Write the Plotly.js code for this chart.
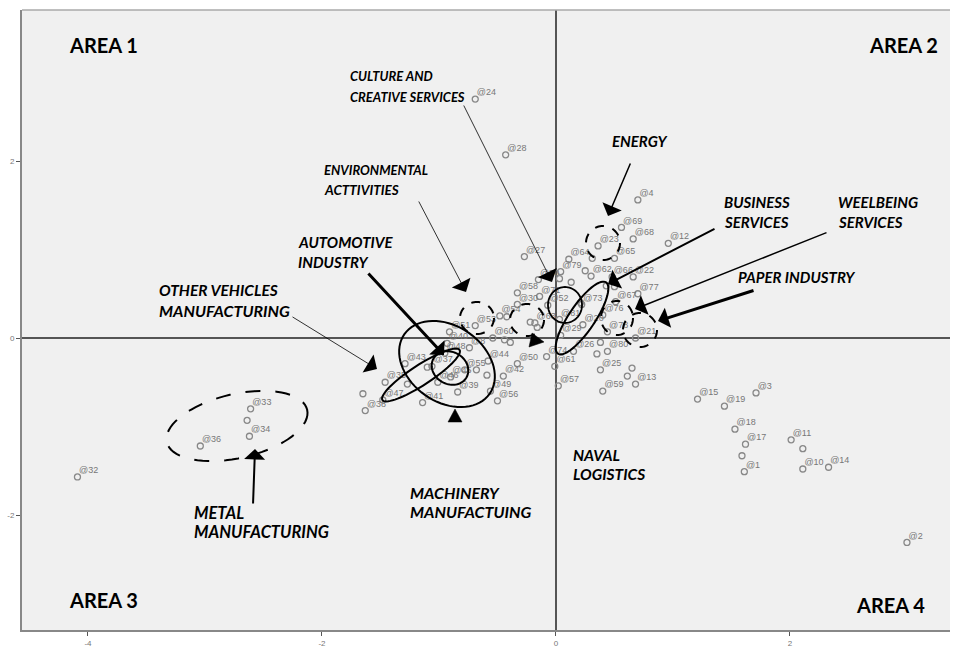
<!DOCTYPE html>
<html><head><meta charset="utf-8">
<script src="https://cdn.plot.ly/plotly-3.0.1.min.js"></script>
<style>html,body{margin:0;padding:0;background:#fff}</style>
</head><body><div id="chart" style="width:971px;height:655px"></div>
<script>
// ---- data (object scores) ----
const pointLabels = ['@24','@28','@4','@69','@68','@12','@23','@65','@64','@27','@79','@62','@66','@22','@58','@77','@70','@71','@30','@73','@67','@54','@76','@81','@63','@52','@53','@20','@51','@29','@78','@21','@60','@40','@48','@8','@26','@80','@74','@44','@43','@50','@37','@61','@55','@25','@45','@42','@35','@46','@13','@57','@59','@39','@49','@47','@56','@41','@38','@33','@34','@36','@32','@15','@3','@19','@18','@17','@1','@11','@10','@14','@2',
  '','','','','','','','','','','','','','','','','','','','','','','',''];
const pointX = [-0.69,-0.43,0.70,0.56,0.66,0.96,0.36,0.50,0.11,-0.27,0.04,0.30,0.48,0.66,-0.33,0.70,-0.15,-0.14,-0.33,0.22,0.51,-0.48,0.40,0.03,-0.18,-0.07,-0.69,0.23,-0.91,0.04,0.44,0.68,-0.54,-0.93,-0.95,-0.74,0.15,0.44,-0.08,-0.58,-1.29,-0.33,-1.06,-0.01,-0.78,0.38,-0.90,-0.45,-1.46,-1.01,0.68,0.02,0.40,-0.84,-0.56,-1.48,-0.50,-1.14,-1.63,-2.61,-2.62,-3.04,-4.09,1.21,1.71,1.44,1.53,1.62,1.61,2.01,2.11,2.33,3.00,
  0.03,0.13,0.31,0.43,0.21,-0.42,-0.22,-0.16,0.38,-0.44,0.61,-1.10,-0.68,-0.59,-1.27,-1.65,-0.39,-2.64,1.59,2.11,0.35,0.65,0.25,0.50];
const pointY = [2.70,2.07,1.56,1.25,1.12,1.07,1.04,0.90,0.89,0.92,0.75,0.70,0.69,0.69,0.51,0.50,0.66,0.47,0.38,0.38,0.41,0.25,0.26,0.21,0.17,0.37,0.14,0.15,0.07,0.03,0.07,0.00,0.00,-0.06,-0.17,-0.11,-0.15,-0.15,-0.21,-0.26,-0.29,-0.29,-0.32,-0.32,-0.36,-0.36,-0.44,-0.43,-0.50,-0.50,-0.52,-0.54,-0.60,-0.61,-0.60,-0.70,-0.71,-0.73,-0.82,-0.80,-1.11,-1.22,-1.57,-0.69,-0.62,-0.77,-1.03,-1.20,-1.51,-1.15,-1.48,-1.46,-2.31,
  0.67,0.63,0.90,0.59,0.40,0.24,0.18,0.12,-0.05,-0.02,-0.43,-0.33,-0.36,-0.42,-0.52,-0.63,-0.05,-0.93,-1.33,-1.25,-0.18,-0.34,0.76,0.58];
const xTicks = [-4,-2,0,2];
const yTicks = [-2,0,2];
const areaLabels = ['AREA 1','AREA 2','AREA 3','AREA 4'];
const groupLines = ['CULTURE AND','CREATIVE SERVICES','ENERGY','ENVIRONMENTAL','ACTTIVITIES','BUSINESS','SERVICES','WEELBEING','SERVICES','AUTOMOTIVE','INDUSTRY','PAPER INDUSTRY','OTHER VEHICLES','MANUFACTURING','NAVAL','LOGISTICS','MACHINERY','MANUFACTUING','METAL','MANUFACTURING'];

// ---- layout geometry ----
const L = 22, T = 10, W = 928, H = 620;
const xr = [-4.564, 3.368], yr = [-3.299, 3.706];
const X = p => xr[0] + (p - L) / W * (xr[1] - xr[0]);
const Y = p => yr[1] - (p - T) / H * (yr[1] - yr[0]);

// [left px, centre py, font size]
const groupPos = [[348,76,13],[348,97,13],[610,141,15],[322,170,13],[322,190,13.5],[722,202,15],[722,222,15],[836,202,15],[836,222,15],[296,242,15],[296,262,15],[736,277,15],[157,290,15.5],[157,310,16],[571,455,15.5],[571,474,15.5],[408,492,16],[408,511,16],[192,513,16.5],[192,532,16.5]];
const areaPos = [[67,45,'left'],[940,45,'right'],[67,600,'left'],[927,605,'right']];

const annotations = [];
groupLines.forEach((t, i) => annotations.push({
  x: X(groupPos[i][0]), y: Y(groupPos[i][1]), xref: 'x', yref: 'y', text: t, showarrow: false,
  xanchor: 'left', yanchor: 'middle',
  font: {family: 'Lato', size: groupPos[i][2], color: '#000', weight: 700, style: 'italic'}
}));
areaLabels.forEach((t, i) => annotations.push({
  x: X(areaPos[i][0]), y: Y(areaPos[i][1]), xref: 'x', yref: 'y', text: t, showarrow: false,
  xanchor: areaPos[i][2], yanchor: 'middle',
  font: {family: 'Lato', size: 20, color: '#000', weight: 700}
}));
// arrows: tip px, tip py, tail px, tail py, line width
const arrows = [[552,282,463,104,0.8],[608,216,631,162,1.5],[466,292,418,200,0.8],[608,284,716,228,2],
  [635,309,828,232,1.5],[658,321,755,290,3],[444,355,367,272,3],[377,369,291,316,0.8],[255,449,253,505,2]];
arrows.forEach(a => annotations.push({
  x: X(a[0]), y: Y(a[1]), xref: 'x', yref: 'y', ax: a[2] - a[0], ay: a[3] - a[1],
  text: '', showarrow: true, arrowhead: 1, arrowwidth: a[4], arrowsize: 3.5 / a[4],
  arrowcolor: '#000', standoff: 0, startstandoff: 0
}));

function ellipse(cx, cy, a, b, ang) {
  const th = ang * Math.PI / 180; let s = '';
  for (let i = 0; i <= 72; i++) {
    const t = i / 72 * 2 * Math.PI;
    const px = cx + a * Math.cos(t) * Math.cos(th) - b * Math.sin(t) * Math.sin(th);
    const py = cy + a * Math.cos(t) * Math.sin(th) + b * Math.sin(t) * Math.cos(th);
    s += (i ? 'L' : 'M') + X(px).toFixed(4) + ',' + Y(py).toFixed(4);
  }
  return s + 'Z';
}
const ells = [[237,426,72,32,-13,'longdash',2],[421,375,46,10,-33,'solid',2],[447,364,52,38,35,'solid',2],
  [450,368,19,16,30,'solid',2],[477,318,17,16,0,'dash',2],[527,320,17,16,0,'dash',2],[565,305,17,18,0,'solid',1.8],
  [582,318,43,13,-56,'solid',2],[603,243,17,17,0,'dash',2],[617,318,16,17,0,'dash',2],[640,330,17,17,0,'dash',2]];
const shapes = ells.map(e => ({type: 'path', path: ellipse(e[0], e[1], e[2], e[3], e[4]),
  xref: 'x', yref: 'y', line: {color: '#000', width: e[6], dash: e[5]}}));
function tri(pts) {
  return pts.map((p, i) => (i ? 'L' : 'M') + X(p[0]).toFixed(4) + ',' + Y(p[1]).toFixed(4)).join('') + 'Z';
}
shapes.push({type: 'path', path: tri([[455,409],[448,422],[462,422]]), xref: 'x', yref: 'y', fillcolor: '#000', line: {color: '#000', width: 0.5}});
shapes.push({type: 'path', path: tri([[529,347],[532,333],[544,342]]), xref: 'x', yref: 'y', fillcolor: '#000', line: {color: '#000', width: 0.5}});
shapes.push({type: 'line', xref: 'paper', yref: 'paper', x0: 0, x1: 1, y0: 1, y1: 1, line: {color: '#aaa', width: 1.5}});

const traces = [
  {type: 'scatter', mode: 'markers', x: pointX, y: pointY,
   marker: {symbol: 'circle-open', size: 6, color: '#888', line: {width: 1.3, color: '#888'}}, hoverinfo: 'skip'},
  {type: 'scatter', mode: 'markers+text', x: pointX, y: pointY, text: pointLabels, textposition: 'top right',
   marker: {size: 1, color: 'rgba(0,0,0,0)'}, textfont: {family: 'Liberation Sans', size: 9, color: '#777'}, hoverinfo: 'skip'}
];

const layout = {
  width: 971, height: 655, margin: {l: L, r: 971 - L - W, t: T, b: 655 - T - H},
  paper_bgcolor: '#fff', plot_bgcolor: '#f0f0f0', showlegend: false, hovermode: false,
  xaxis: {range: xr, tickvals: xTicks, ticktext: xTicks.map(String), ticks: 'outside', ticklen: 4, tickcolor: '#555',
    tickfont: {family: 'Liberation Sans', size: 8, color: '#777'}, showgrid: false, zeroline: true,
    zerolinecolor: '#555', zerolinewidth: 1.5, showline: true, linecolor: '#888', linewidth: 2},
  yaxis: {range: yr, tickvals: yTicks, ticktext: yTicks.map(String), ticks: 'outside', ticklen: 4, tickcolor: '#555',
    tickfont: {family: 'Liberation Sans', size: 8, color: '#777'}, showgrid: false, zeroline: true,
    zerolinecolor: '#555', zerolinewidth: 1.5, showline: true, linecolor: '#888', linewidth: 2},
  annotations: annotations, shapes: shapes
};
Plotly.newPlot('chart', traces, layout, {displayModeBar: false, staticPlot: true});
</script></body></html>
